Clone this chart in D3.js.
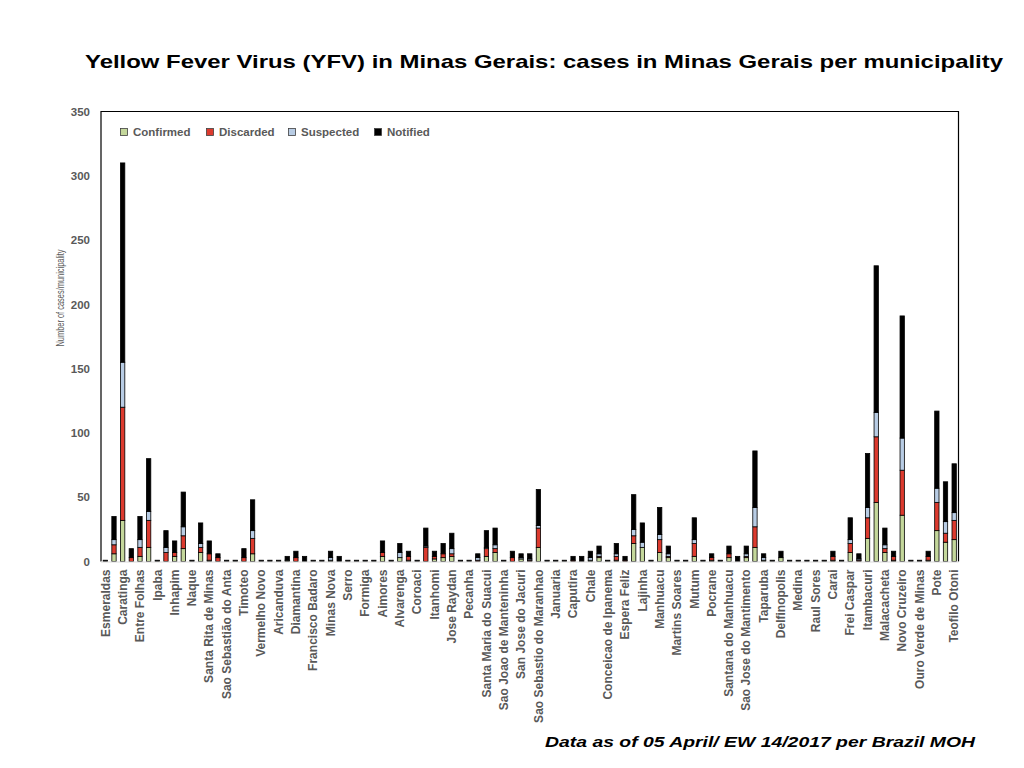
<!DOCTYPE html>
<html lang="en">
<head>
<meta charset="UTF-8">
<title>Yellow Fever Virus (YFV) in Minas Gerais</title>
<script src="https://d3js.org/d3.v7.min.js"></script>
<style>
    body { margin: 0; background: #fff; }
    svg { font-family: "Liberation Sans", Arial, sans-serif; }
    .axis text { font-size: 11.5px; font-weight: bold; fill: #595959; }
    .legend text { font-size: 11.5px; font-weight: bold; fill: #595959; }
</style>
</head>
<body>
<svg width="1024" height="768"></svg>
<script>
    // municipality names: only every other one is printed on the axis
    var categories = [
        "Esmeraldas", "", "Caratinga", "", "Entre Folhas", "", "Ipaba", "", "Inhapim", "",
        "Naque", "", "Santa Rita de Minas", "", "Sao Sebastião do Anta", "", "Timoteo", "", "Vermelho Novo", "",
        "Aricanduva", "", "Diamantina", "", "Francisco Badaro", "", "Minas Nova", "", "Serro", "",
        "Formiga", "", "Aimores", "", "Alvarenga", "", "Coroaci", "", "Itanhomi", "",
        "Jose Raydan", "", "Pecanha", "", "Santa Maria do Suacui", "", "Sao Joao de Manteninha", "", "San Jose do Jacuri", "",
        "Sao Sebastio do Maranhao", "", "Januaria", "", "Caputira", "", "Chale", "", "Conceicao de Ipanema", "",
        "Espera Feliz", "", "Lajinha", "", "Manhuacu", "", "Martins Soares", "", "Mutum", "",
        "Pocrane", "", "Santana do Manhuacu", "", "Sao Jose do Mantimento", "", "Taparuba", "", "Delfinopolis", "",
        "Medina", "", "Raul Sores", "", "Carai", "", "Frei Caspar", "", "Itambacuri", "",
        "Malacacheta", "", "Novo Cruzeiro", "", "Ouro Verde de Minas", "", "Pote", "", "Teofilo Otoni"
    ];

    var confirmed = [
        0, 6, 32, 0, 4, 11, 0, 0, 4, 10,
        0, 7, 1, 0, 0, 0, 0, 6, 0, 0,
        0, 1, 0, 0, 0, 0, 1, 0, 0, 0,
        0, 0, 4, 0, 3, 1, 0, 0, 2, 3,
        4, 0, 0, 0, 4, 7, 0, 0, 2, 0,
        11, 0, 0, 0, 0, 0, 1, 3, 0, 1,
        0, 14, 11, 0, 7, 3, 0, 0, 4, 0,
        1, 0, 3, 0, 3, 11, 1, 0, 3, 0,
        0, 0, 0, 0, 1, 0, 7, 0, 18, 46,
        7, 1, 36, 0, 0, 1, 24, 15, 17
    ];
    var discarded = [
        0, 7, 88, 3, 7, 21, 0, 7, 3, 10,
        0, 4, 5, 3, 0, 0, 3, 12, 0, 0,
        0, 0, 3, 0, 0, 0, 0, 0, 0, 0,
        0, 0, 3, 0, 0, 3, 0, 11, 2, 3,
        2, 0, 0, 1, 6, 3, 0, 3, 0, 1,
        15, 0, 0, 0, 1, 0, 0, 1, 0, 3,
        1, 6, 0, 0, 10, 1, 0, 0, 10, 0,
        2, 0, 3, 0, 1, 16, 0, 0, 0, 0,
        0, 0, 0, 0, 3, 0, 7, 1, 16, 51,
        3, 3, 35, 0, 0, 3, 22, 7, 15
    ];
    var suspected = [
        0, 4, 35, 0, 6, 7, 0, 4, 0, 7,
        0, 3, 0, 0, 0, 0, 0, 6, 0, 0,
        0, 0, 0, 0, 0, 0, 2, 0, 0, 0,
        0, 0, 0, 0, 4, 0, 0, 1, 0, 0,
        4, 0, 0, 2, 1, 3, 0, 0, 1, 1,
        2, 0, 0, 0, 0, 0, 2, 2, 0, 2,
        0, 5, 4, 0, 4, 2, 0, 0, 3, 0,
        0, 0, 0, 0, 2, 15, 2, 0, 0, 0,
        0, 0, 0, 0, 0, 0, 3, 1, 8, 19,
        3, 0, 25, 0, 0, 0, 11, 9, 6
    ];
    var notified = [
        1, 18, 155, 7, 18, 41, 1, 13, 9, 27,
        1, 16, 10, 3, 1, 1, 7, 24, 1, 1,
        1, 3, 5, 4, 1, 1, 5, 4, 1, 1,
        1, 1, 9, 1, 7, 4, 1, 14, 4, 8,
        12, 1, 1, 3, 13, 13, 1, 5, 3, 4,
        28, 1, 1, 1, 3, 4, 5, 6, 1, 8,
        3, 27, 15, 1, 21, 6, 1, 1, 17, 1,
        3, 1, 6, 4, 6, 44, 3, 1, 5, 1,
        1, 1, 1, 1, 4, 1, 17, 4, 42, 114,
        13, 4, 95, 1, 1, 4, 60, 31, 38
    ];

    var seriesNames = ["Confirmed", "Discarded", "Suspected", "Notified"];
    var seriesColors = ["#c4d79b", "#dc3a2e", "#b8cce4", "#000000"];
    var yTicks = [0, 50, 100, 150, 200, 250, 300, 350];

    var svg = d3.select("svg");

    // plot area borders
    var plotLeft = 101, plotRight = 958.5, plotTop = 111.5, plotBottom = 561.5;

    var rows = categories.map(function (c, i) {
        return {
            i: i,
            Confirmed: confirmed[i],
            Discarded: discarded[i],
            Suspected: suspected[i],
            Notified: notified[i]
        };
    });

    var x = d3.scaleBand()
        .domain(d3.range(categories.length))
        .range([plotLeft, plotRight])
        .paddingInner(0.5)
        .paddingOuter(0.25);

    var y = d3.scaleLinear()
        .domain([0, 350])
        .range([plotBottom, plotTop]);

    var color = d3.scaleOrdinal().domain(seriesNames).range(seriesColors);

    var stacked = d3.stack().keys(seriesNames)(rows);

    // title (the slide text is a bit stretched sideways)
    svg.append("text")
        .attr("x", 85)
        .attr("y", 68)
        .attr("textLength", 918)
        .attr("lengthAdjust", "spacingAndGlyphs")
        .style("font-size", "19px")
        .style("font-weight", "bold")
        .style("fill", "#000")
        .text("Yellow Fever Virus (YFV) in Minas Gerais: cases in Minas Gerais per municipality");

    // bars
    svg.append("g")
        .selectAll("g")
        .data(stacked)
        .enter()
        .append("g")
        .attr("fill", function (d) { return color(d.key); })
        .selectAll("rect")
        .data(function (d) { return d.filter(function (p) { return p[1] > p[0]; }); })
        .enter()
        .append("rect")
        .attr("x", function (d) { return x(d.data.i); })
        .attr("width", x.bandwidth())
        .attr("y", function (d) { return y(d[1]); })
        .attr("height", function (d) { return y(d[0]) - y(d[1]); })
        .attr("stroke", "#000")
        .attr("stroke-width", 0.8);

    // frame: left, top and right black, bottom light
    svg.append("path")
        .attr("d", "M" + plotLeft + "," + plotBottom + "V" + plotTop + "H" + plotRight + "V" + plotBottom)
        .attr("fill", "none")
        .attr("stroke", "#000")
        .attr("stroke-width", 1.2);
    svg.append("line")
        .attr("x1", plotLeft).attr("x2", plotRight)
        .attr("y1", plotBottom + 0.5).attr("y2", plotBottom + 0.5)
        .attr("stroke", "#d9d9d9");

    // y axis
    var yAxis = d3.axisLeft(y).tickValues(yTicks).tickSize(0).tickPadding(11);
    svg.append("g")
        .classed("axis", true)
        .attr("transform", "translate(" + plotLeft + ",0)")
        .call(yAxis)
        .call(function (g) { g.select(".domain").remove(); });

    // x axis with rotated labels
    var xAxis = d3.axisBottom(x)
        .tickSize(0)
        .tickFormat(function (i) { return categories[i]; });
    svg.append("g")
        .classed("axis", true)
        .attr("transform", "translate(0," + plotBottom + ")")
        .call(xAxis)
        .call(function (g) { g.select(".domain").remove(); })
        .selectAll("text")
        .style("font-size", "12px")
        .attr("text-anchor", "end")
        .attr("dy", "0.35em")
        .attr("transform", "translate(0,8) rotate(-90)")
        .attr("x", 0)
        .attr("y", 0);

    // y axis title, squeezed along its length like the original
    svg.append("text")
        .attr("transform", "translate(63.5,298) rotate(-90)")
        .attr("text-anchor", "middle")
        .attr("textLength", 97)
        .attr("lengthAdjust", "spacingAndGlyphs")
        .style("font-size", "11px")
        .style("fill", "#595959")
        .text("Number of cases/municipality");

    // legend
    var legendX = [124, 210, 292, 378];
    var legend = svg.append("g").classed("legend", true);
    var item = legend.selectAll("g")
        .data(seriesNames)
        .enter()
        .append("g")
        .attr("transform", function (d, i) { return "translate(" + legendX[i] + ",132)"; });
    item.append("rect")
        .attr("x", -3.5).attr("y", -3.5)
        .attr("width", 7).attr("height", 7)
        .attr("fill", function (d) { return color(d); })
        .attr("stroke", "#404040")
        .attr("stroke-width", 0.8);
    item.append("text")
        .attr("x", 9)
        .attr("y", 4)
        .text(function (d) { return d; });

    // source note
    svg.append("text")
        .attr("x", 545)
        .attr("y", 747)
        .attr("textLength", 430)
        .attr("lengthAdjust", "spacingAndGlyphs")
        .style("font-size", "15.5px")
        .style("font-weight", "bold")
        .style("font-style", "italic")
        .style("fill", "#000")
        .text("Data as of 05 April/ EW 14/2017 per Brazil MOH");
</script>
</body>
</html>
